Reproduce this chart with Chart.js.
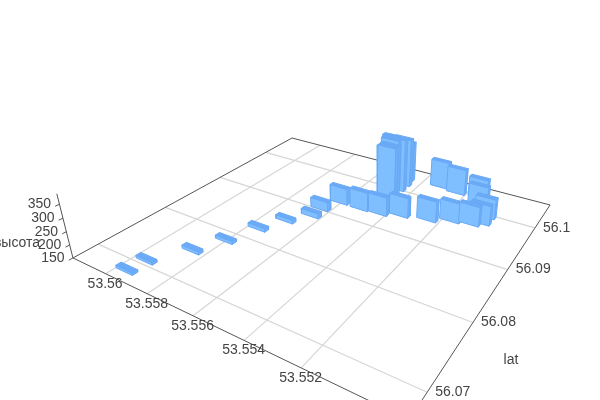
<!DOCTYPE html>
<html>
<head>
<meta charset="utf-8">
<style>
  html, body { margin: 0; padding: 0; background: #fff; }
  canvas { display: block; }
</style>
<script src="https://cdn.jsdelivr.net/npm/chart.js@4"></script>
</head>
<body>
<canvas id="bars3d" width="600" height="400"></canvas>
<script>
const lonTicks = [53.56, 53.558, 53.556, 53.554, 53.552];
const lonLabels = ["53.56", "53.558", "53.556", "53.554", "53.552"];
const latTicks = [56.1, 56.09, 56.08, 56.07];
const latLabels = ["56.1", "56.09", "56.08", "56.07"];
const heightTicks = [150, 200, 250, 300, 350];
const heightLabels = ["150", "200", "250", "300", "350"];

const barLon = [53.55957, 53.55947, 53.55858, 53.55804, 53.55758, 53.55706, 53.55645, 53.55645, 53.55608, 53.55513,
  53.55432, 53.55355, 53.55249, 53.55171, 53.551, 53.55068, 53.55068, 53.55126, 53.55147, 53.55321,
  53.55241, 53.55467, 53.55471, 53.55489, 53.55502, 53.55469, 53.55469, 53.5548];
const barLat = [56.06837, 56.07077, 56.07483, 56.07838, 56.08242, 56.08565, 56.08829, 56.09035, 56.09304, 56.09301,
  56.09323, 56.09422, 56.09505, 56.09634, 56.0969, 56.0978, 56.09954, 56.10196, 56.10373, 56.10395,
  56.10349, 56.09743, 56.09827, 56.09956, 56.10066, 56.10017, 56.10189, 56.10345];
const barHeight = [160, 160, 162, 162, 164, 165, 171, 189, 218, 228,
  227, 232, 236, 231, 230, 230, 232, 234, 235, 264,
  258, 366, 363, 369, 367, 370, 352, 318];

const barSizeLon = 0.0008;
const barSizeLat = 0.0007;

const lonMin = 53.54877, lonMax = 53.56172;
const latMin = 56.06674, latMax = 56.10661;
const heightMin = 150, heightMax = 387;

// camera fitted to the floor corners and the lean of the height axis
function project(lon, lat, h) {
  const u = (lonMax - lon) / (lonMax - lonMin);
  const v = (latMax - lat) / (latMax - latMin);
  const k = (h - heightMin) * 1.532e-4;
  const w = 1 - 0.2028 * u - 0.3173 * v - k;
  return {
    x: (146.5 * u - 242.2 * v + 292 - 360 * k) / w,
    y: (25.4 * u + 38.1 * v + 138 - 1400 * k) / w,
  };
}

function depth(lon, lat) {
  const u = (lonMax - lon) / (lonMax - lonMin);
  const v = (latMax - lat) / (latMax - latMin);
  return 1 - 0.2028 * u - 0.3173 * v;
}

function lineMark(points, color, width) {
  return {
    data: points,
    borderColor: color,
    borderWidth: width,
    pointRadius: 0,
    fill: false,
    tension: 0,
  };
}

function faceMark(points, fillColor) {
  return {
    data: points.concat([points[0]]),
    borderColor: "#68a8f5",
    borderWidth: 1,
    backgroundColor: fillColor,
    pointRadius: 0,
    fill: "shape",
    tension: 0,
  };
}

let marks = [];

// floor grid
lonTicks.forEach(function (lon) {
  marks.push(lineMark([project(lon, latMin, heightMin), project(lon, latMax, heightMin)], "#d6d6d6", 1.2));
});
latTicks.forEach(function (lat) {
  marks.push(lineMark([project(lonMin, lat, heightMin), project(lonMax, lat, heightMin)], "#d6d6d6", 1.2));
});

// axis lines
marks.push(lineMark([project(lonMax, latMax, heightMin), project(lonMin, latMax, heightMin)], "#555", 1));
marks.push(lineMark([project(lonMax, latMax, heightMin), project(lonMax, latMin, heightMin)], "#555", 1));
marks.push(lineMark([project(lonMax, latMin, heightMin), project(lonMin, latMin, heightMin)], "#555", 1));
marks.push(lineMark([project(lonMin, latMax, heightMin), project(lonMin, latMin, heightMin)], "#555", 1));
marks.push(lineMark([project(lonMax, latMin, heightMin), project(lonMax, latMin, heightMax)], "#555", 1));
heightTicks.forEach(function (h) {
  marks.push(lineMark([project(lonMax, latMin, h), project(lonMax, latMin - 0.0005, h)], "#555", 1));
});

// bars, far ones first
let barOrder = barLon.map(function (lon, i) { return i; });
barOrder.sort(function (a, b) {
  return depth(barLon[b], barLat[b]) - depth(barLon[a], barLat[a]);
});
barOrder.forEach(function (i) {
  const lonA = barLon[i] + barSizeLon / 2, lonB = barLon[i] - barSizeLon / 2;
  const latA = barLat[i] + barSizeLat / 2, latB = barLat[i] - barSizeLat / 2;
  const h = barHeight[i];
  marks.push(faceMark([project(lonB, latA, heightMin), project(lonB, latB, heightMin),
    project(lonB, latB, h), project(lonB, latA, h)], "#6fb0f8"));
  marks.push(faceMark([project(lonA, latB, heightMin), project(lonB, latB, heightMin),
    project(lonB, latB, h), project(lonA, latB, h)], "#80bfff"));
  marks.push(faceMark([project(lonA, latA, h), project(lonB, latA, h),
    project(lonB, latB, h), project(lonA, latB, h)], "#6aaaf6"));
});

const axisText = {
  id: "axisText",
  afterDraw(chart) {
    const ctx = chart.ctx;
    const sx = chart.scales.x, sy = chart.scales.y;
    function put(text, p, dx, dy) {
      ctx.fillText(text, sx.getPixelForValue(p.x) + dx, sy.getPixelForValue(p.y) + dy);
    }
    ctx.save();
    ctx.font = "14px 'Liberation Sans'";
    ctx.fillStyle = "#444";
    ctx.textBaseline = "middle";
    ctx.textAlign = "center";
    lonTicks.forEach(function (lon, i) {
      put(lonLabels[i], project(lon, latMin, heightMin), -0.5, 10);
    });
    heightTicks.forEach(function (h, i) {
      put(heightLabels[i], project(lonMax, latMin, h), -20, 0);
    });
    ctx.fillText("высота", 17, 243);
    ctx.fillText("lat", 511, 360);
    ctx.textAlign = "left";
    latTicks.forEach(function (lat, i) {
      put(latLabels[i], project(lonMin, lat, heightMin), 8, 0);
    });
    ctx.restore();
  },
};

new Chart(document.getElementById("bars3d"), {
  type: "line",
  data: { datasets: marks.reverse() },
  plugins: [axisText],
  options: {
    responsive: false,
    animation: false,
    layout: { padding: 0 },
    plugins: { legend: { display: false }, tooltip: { enabled: false } },
    scales: {
      x: { type: "linear", min: 0, max: 600, display: false },
      y: { type: "linear", min: 0, max: 400, reverse: true, display: false },
    },
  },
});
</script>
</body>
</html>
